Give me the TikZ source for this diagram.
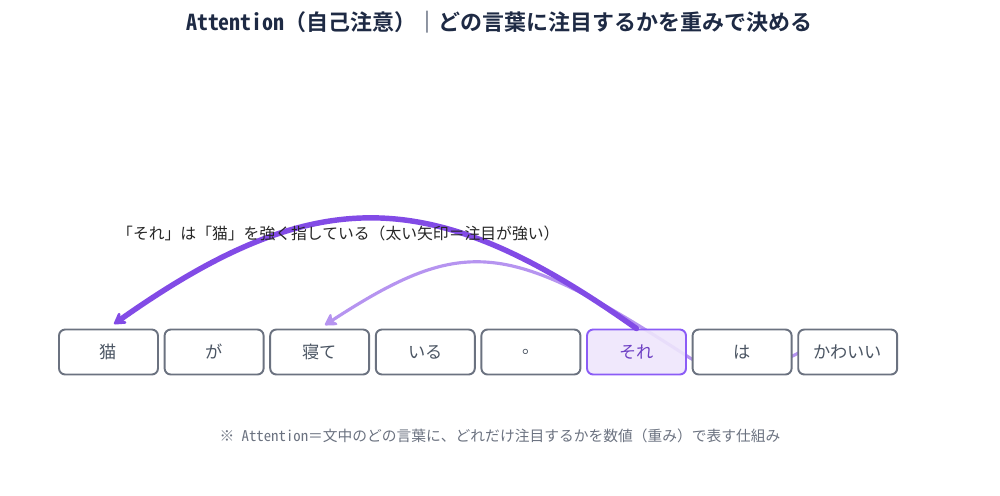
\documentclass[tikz,border=0pt]{standalone}
\usepackage{fontspec}
\setmainfont{Noto Sans CJK JP}
\newfontfamily\monojp{Noto Sans Mono CJK JP}
\usepackage{tikz}
\usetikzlibrary{arrows.meta}

\definecolor{ink}{HTML}{1E2A44}
\definecolor{boxline}{HTML}{6B7280}
\definecolor{boxtext}{HTML}{4B5563}
\definecolor{strong}{RGB}{130,75,230}
\definecolor{weak}{RGB}{182,148,240}
\definecolor{hifill}{HTML}{EEE6FC}
\definecolor{hiline}{HTML}{8B5CF6}

\begin{document}
\begin{tikzpicture}[x=0.02cm, y=-0.02cm,
    word/.style={draw=boxline, line width=1.1pt, rounded corners=3.5pt, fill=white,
      minimum width=1.98cm, minimum height=0.9cm, inner sep=0pt,
      text=boxtext, font=\fontsize{9.8}{11}\selectfont},
    focus/.style={word, draw=hiline, fill=hifill, text=strong!85!black},
    attn/.style={line cap=round, -{Stealth[round, length=8pt, width=9.5pt]}}]
    \useasboundingbox (0,0) rectangle (1000,495);

    \node[font=\monojp\bfseries\fontsize{12.5}{14}\selectfont, text=ink] (title) at (499,22)
      {Attention（自己注意）｜どの言葉に注目するかを重みで決める};

    % thin arrow goes behind the boxes
    \coordinate (bend) at (690,358);
    \coordinate (tipneru) at (325,325);
    \coordinate (kawaiiin) at (800,352);
    \draw[attn, weak, line width=1.8pt] (kawaiiin) .. controls (775,368) and (711,372) .. (bend)
      .. controls (508,240) and (465,234) .. (tipneru);

    \node[word] (neko) at (108.5,352) {猫};
    \node[word] (ga) at (214.1,352) {が};
    \node[word] (nete) at (319.7,352) {寝て};
    \node[word] (iru) at (425.3,352) {いる};
    \node[word] (maru) at (530.9,352) {。};
    \node[focus, fill opacity=0.9, text opacity=1] (sore) at (636.5,352) {それ};
    \node[word] (wa) at (742.1,352) {は};
    \node[word] (kawaii) at (847.7,352) {かわいい};

    % thick arrow: strong attention
    \coordinate (tipneko) at (114,324);
    \draw[attn, strong, line width=3.1pt] (sore.north) .. controls (434,185) and (318,180) .. (tipneko);

    \node[anchor=west, font=\fontsize{9}{10}\selectfont, text=black!85] (note) at (111,233)
      {「それ」は「猫」を強く指している（太い矢印＝注目が強い）};

    \node[font=\monojp\fontsize{8.4}{10}\selectfont, text=boxline] (foot) at (500,436)
      {※ Attention＝文中のどの言葉に、どれだけ注目するかを数値（重み）で表す仕組み};
\end{tikzpicture}
\end{document}
